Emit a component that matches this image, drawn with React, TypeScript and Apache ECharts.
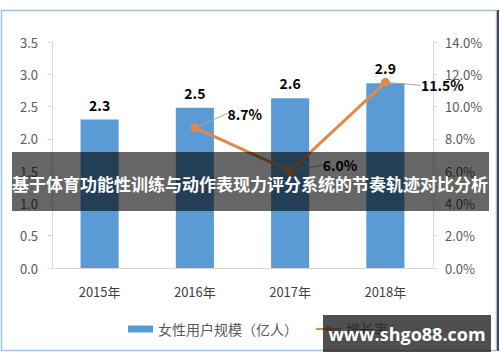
import React, { useEffect, useRef } from "react";
import * as echarts from "echarts";

const categories = ["2015年", "2016年", "2017年", "2018年"];
const userScale = [2.3, 2.48, 2.63, 2.86];
const growthRate: (number | string)[] = ["-", 8.7, 6.0, 11.5];
const leftTicks = { min: 0, max: 3.5, interval: 0.5 };
const rightTicks = { min: 0, max: 14, interval: 2 };
const barName = "女性用户规模（亿人）";
const lineName = "增长率";
const titleText = "基于体育功能性训练与动作表现力评分系统的节奏轨迹对比分析";
const watermark = "www.shgo88.com";

const FONT = "'Noto Sans CJK SC', 'Noto Sans', sans-serif";

export default function App() {
  const ref = useRef<HTMLDivElement>(null);
  useEffect(() => {
    if (!ref.current) return;
    const chart = echarts.init(ref.current, null, { renderer: "svg" });
    const labelShift = [
      { dx: 0, dy: 0 },
      { dx: 23, dy: -14 },
      { dx: 23, dy: -6 },
      { dx: 26, dy: 3 },
    ];
    chart.setOption({
      animation: false,
      backgroundColor: "#ffffff",
      textStyle: { fontFamily: FONT },
      grid: { left: 52, right: 67, top: 42, bottom: 94, containLabel: false },
      legend: {
        left: 123,
        top: 317,
        itemWidth: 25,
        itemHeight: 7,
        itemGap: 17,
        textStyle: { fontSize: 14, color: "#595959", fontFamily: FONT },
        data: [
          { name: barName, icon: "rect" },
          { name: lineName },
        ],
      },
      xAxis: {
        type: "category",
        data: categories,
        axisLine: { lineStyle: { color: "#D9D9D9", width: 1 } },
        axisTick: { show: false },
        axisLabel: { color: "#404040", fontSize: 13, margin: 17, fontFamily: FONT },
      },
      yAxis: [
        {
          type: "value",
          min: leftTicks.min,
          max: leftTicks.max,
          interval: leftTicks.interval,
          axisLine: { show: true, lineStyle: { color: "#D9D9D9" } },
          axisTick: { show: true, length: 4, lineStyle: { color: "#D9D9D9" } },
          splitLine: { show: false },
          axisLabel: {
            color: "#595959",
            fontSize: 13,
            margin: 14,
            formatter: (v: number) => v.toFixed(1),
          },
        },
        {
          type: "value",
          min: rightTicks.min,
          max: rightTicks.max,
          interval: rightTicks.interval,
          axisLine: { show: true, lineStyle: { color: "#D9D9D9" } },
          axisTick: { show: true, length: 4, lineStyle: { color: "#D9D9D9" } },
          minorTick: { show: true, splitNumber: 4, length: 3, lineStyle: { color: "#E3E3E3" } },
          splitLine: { show: false },
          axisLabel: {
            color: "#595959",
            fontSize: 13,
            margin: 12,
            formatter: (v: number) => v.toFixed(1) + "%",
          },
        },
      ],
      series: [
        {
          name: barName,
          type: "bar",
          data: userScale,
          barWidth: "40%",
          itemStyle: { color: "#5B9BD5" },
          label: {
            show: true,
            position: "top",
            distance: 8,
            color: "#000",
            fontWeight: "bold",
            fontSize: 14,
            formatter: (p: any) => Number(p.value).toFixed(1),
          },
        },
        {
          name: lineName,
          type: "line",
          yAxisIndex: 1,
          data: growthRate,
          symbol: "circle",
          symbolSize: 9,
          itemStyle: { color: "#E08A4A" },
          lineStyle: { color: "#E08A4A", width: 3 },
          label: {
            show: true,
            position: "right",
            distance: 5,
            color: "#000",
            fontWeight: "bold",
            fontSize: 14,
            formatter: (p: any) => Number(p.value).toFixed(1) + "%",
          },
          labelLine: { show: true, lineStyle: { color: "#A6A6A6", width: 1 } },
          labelLayout: (params: any) => labelShift[params.dataIndex] || { dx: 0, dy: 0 },
          z: 5,
        },
      ],
      graphic: [
        {
          type: "rect",
          shape: { x: 1.5, y: 10.5, width: 495, height: 340 },
          style: { fill: "none", stroke: "#9DC3E6", lineWidth: 1.5 },
          silent: true,
          z: 1,
        },
        {
          type: "rect",
          shape: { x: 497, y: 10, width: 2, height: 341 },
          style: { fill: "#4a4a4a" },
          silent: true,
          z: 1,
        },
        {
          type: "rect",
          shape: { x: 12, y: 152, width: 477, height: 59 },
          style: { fill: "rgba(0,0,0,0.6)" },
          z: 100,
          silent: true,
        },
        {
          type: "text",
          x: 250,
          y: 183,
          z: 101,
          style: {
            text: titleText,
            fill: "#ffffff",
            font: "bold 17px " + FONT,
            textAlign: "center",
            textVerticalAlign: "middle",
          },
          silent: true,
        },
        {
          type: "rect",
          shape: { x: 323, y: 315, width: 168, height: 37 },
          style: { fill: "rgba(30,30,30,0.78)" },
          z: 100,
          silent: true,
        },
        {
          type: "text",
          x: 407,
          y: 334,
          z: 101,
          style: {
            text: watermark,
            fill: "#ffffff",
            font: "bold 18px 'Open Sans', 'DejaVu Sans', sans-serif",
            textAlign: "center",
            textVerticalAlign: "middle",
          },
          silent: true,
        },
      ],
    });
    return () => chart.dispose();
  }, []);
  return (
    <div
      ref={ref}
      style={{ position: "fixed", left: 0, top: 0, width: 500, height: 362 }}
    />
  );
}
